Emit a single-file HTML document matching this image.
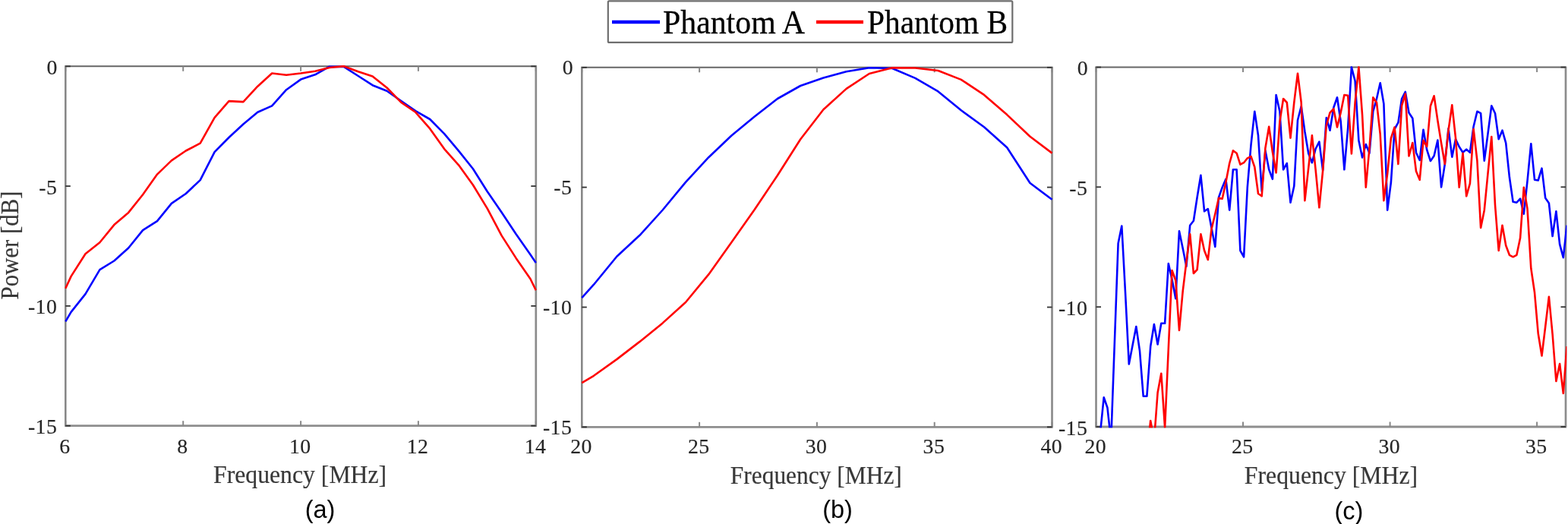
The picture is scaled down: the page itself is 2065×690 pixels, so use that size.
<!DOCTYPE html>
<html><head><meta charset="utf-8"><title>Power spectra</title>
<style>
html,body{margin:0;padding:0;background:#fff;}
body{width:2065px;height:690px;overflow:hidden;}
svg{display:block;}
.tk{font-family:"Liberation Serif",serif;font-size:27.8px;fill:#262626;stroke:#262626;stroke-width:0.15px;letter-spacing:0.4px;}
.al{font-family:"Liberation Serif",serif;font-size:34px;fill:#383838;stroke:#383838;stroke-width:0.2px;}
.lg{font-family:"Liberation Serif",serif;font-size:43.5px;fill:#000;stroke:#000;stroke-width:0.3px;}
.cap{font-family:"Liberation Sans",sans-serif;font-size:32.5px;fill:#000;}
</style></head><body>
<svg width="2065" height="690" viewBox="0 0 2065 690">
<rect width="2065" height="690" fill="#fff"/>

<rect x="800.8" y="1.3" width="532.5" height="54.6" rx="1.5" fill="#fff" stroke="#6e6e6e" stroke-width="2.2"/>
<line x1="806" y1="29.0" x2="869" y2="29.0" stroke="#0000ff" stroke-width="4.6"/>
<text x="873" y="44" class="lg" textLength="187" lengthAdjust="spacingAndGlyphs">Phantom A</text>
<line x1="1075" y1="29.0" x2="1137" y2="29.0" stroke="#ff0000" stroke-width="4.6"/>
<text x="1142" y="44" class="lg" textLength="185" lengthAdjust="spacingAndGlyphs">Phantom B</text>

<text transform="translate(24,323) rotate(-90)" text-anchor="middle" class="al" textLength="143" lengthAdjust="spacingAndGlyphs">Power [dB]</text>
<line x1="85.1" y1="87.3" x2="707.0" y2="87.3" stroke="#666" stroke-width="2.1"/>
<line x1="85.1" y1="560.7" x2="707.0" y2="560.7" stroke="#8e8e8e" stroke-width="2.8"/>
<line x1="86.3" y1="87.3" x2="86.3" y2="560.7" stroke="#858585" stroke-width="2.5"/>
<line x1="705.8" y1="87.3" x2="705.8" y2="560.7" stroke="#8c8c8c" stroke-width="2.7"/>
<line x1="86.3" y1="560.7" x2="86.3" y2="554.2" stroke="#888" stroke-width="2.0"/>
<line x1="86.3" y1="87.3" x2="86.3" y2="93.8" stroke="#888" stroke-width="2.0"/>
<text x="85.5" y="596.8" text-anchor="middle" class="tk">6</text>
<line x1="241.2" y1="560.7" x2="241.2" y2="554.2" stroke="#888" stroke-width="2.0"/>
<line x1="241.2" y1="87.3" x2="241.2" y2="93.8" stroke="#888" stroke-width="2.0"/>
<text x="240.4" y="596.8" text-anchor="middle" class="tk">8</text>
<line x1="396.1" y1="560.7" x2="396.1" y2="554.2" stroke="#888" stroke-width="2.0"/>
<line x1="396.1" y1="87.3" x2="396.1" y2="93.8" stroke="#888" stroke-width="2.0"/>
<text x="395.2" y="596.8" text-anchor="middle" class="tk">10</text>
<line x1="550.9" y1="560.7" x2="550.9" y2="554.2" stroke="#888" stroke-width="2.0"/>
<line x1="550.9" y1="87.3" x2="550.9" y2="93.8" stroke="#888" stroke-width="2.0"/>
<text x="550.1" y="596.8" text-anchor="middle" class="tk">12</text>
<line x1="705.8" y1="560.7" x2="705.8" y2="554.2" stroke="#888" stroke-width="2.0"/>
<line x1="705.8" y1="87.3" x2="705.8" y2="93.8" stroke="#888" stroke-width="2.0"/>
<text x="705.0" y="596.8" text-anchor="middle" class="tk">14</text>
<line x1="86.3" y1="87.3" x2="92.8" y2="87.3" stroke="#333" stroke-width="1.8"/>
<line x1="705.8" y1="87.3" x2="699.3" y2="87.3" stroke="#333" stroke-width="1.8"/>
<text x="75.9" y="97.8" text-anchor="end" class="tk">0</text>
<line x1="86.3" y1="245.1" x2="92.8" y2="245.1" stroke="#333" stroke-width="1.8"/>
<line x1="705.8" y1="245.1" x2="699.3" y2="245.1" stroke="#333" stroke-width="1.8"/>
<text x="75.2" y="255.6" text-anchor="end" class="tk">-5</text>
<line x1="86.3" y1="402.9" x2="92.8" y2="402.9" stroke="#333" stroke-width="1.8"/>
<line x1="705.8" y1="402.9" x2="699.3" y2="402.9" stroke="#333" stroke-width="1.8"/>
<text x="75.2" y="413.4" text-anchor="end" class="tk">-10</text>
<line x1="86.3" y1="560.7" x2="92.8" y2="560.7" stroke="#333" stroke-width="1.8"/>
<line x1="705.8" y1="560.7" x2="699.3" y2="560.7" stroke="#333" stroke-width="1.8"/>
<text x="75.2" y="571.2" text-anchor="end" class="tk">-15</text>
<text x="395.1" y="635.5" text-anchor="middle" class="al" textLength="228" lengthAdjust="spacingAndGlyphs">Frequency [MHz]</text>
<text x="421.5" y="682" text-anchor="middle" class="cap">(a)</text>
<clipPath id="ca"><rect x="85.0" y="86.0" width="622.1" height="476.00000000000006"/></clipPath>
<g clip-path="url(#ca)">
<polyline points="86.3,423.4 93.6,410.9 112.5,387.1 131.4,355.2 150.3,343.5 169.2,326.5 188.1,303.1 207.0,291.1 225.9,267.9 244.8,255.0 263.7,237.1 282.6,200.2 301.5,181.0 320.4,163.5 339.3,147.8 358.2,139.4 377.1,118.2 396.1,104.6 415.0,98.3 433.9,87.7 452.8,87.9 471.7,100.0 490.6,112.2 509.5,119.7 528.4,133.0 547.3,146.1 566.2,157.0 585.1,176.2 604.0,198.6 622.9,222.3 641.8,252.2 660.7,279.7 679.6,308.3 698.5,335.2 705.8,346.1" fill="none" stroke="#0000ff" stroke-width="2.6" stroke-linejoin="round" stroke-linecap="butt"/>
<polyline points="86.3,379.7 93.6,363.9 112.5,334.3 131.4,319.3 150.3,296.1 169.2,279.9 188.1,256.2 207.0,229.6 225.9,211.4 244.8,198.5 263.7,188.7 282.6,154.8 301.5,133.1 320.4,134.1 339.3,113.7 358.2,96.5 377.1,98.7 396.1,96.5 415.0,93.7 433.9,89.0 452.8,87.2 471.7,94.3 490.6,100.6 509.5,115.5 528.4,134.9 547.3,147.8 566.2,169.4 585.1,196.1 604.0,217.3 622.9,243.5 641.8,274.7 660.7,310.4 679.6,339.9 698.5,367.3 705.8,382.3" fill="none" stroke="#ff0000" stroke-width="2.6" stroke-linejoin="round" stroke-linecap="butt"/>
</g><line x1="765.0999999999999" y1="88.8" x2="1386.7" y2="88.8" stroke="#666" stroke-width="2.1"/>
<line x1="765.0999999999999" y1="562.3" x2="1386.7" y2="562.3" stroke="#8e8e8e" stroke-width="2.8"/>
<line x1="766.3" y1="88.8" x2="766.3" y2="562.3" stroke="#858585" stroke-width="2.5"/>
<line x1="1385.5" y1="88.8" x2="1385.5" y2="562.3" stroke="#8c8c8c" stroke-width="2.7"/>
<line x1="766.3" y1="562.3" x2="766.3" y2="555.8" stroke="#888" stroke-width="2.0"/>
<line x1="766.3" y1="88.8" x2="766.3" y2="95.3" stroke="#888" stroke-width="2.0"/>
<text x="765.5" y="596.8" text-anchor="middle" class="tk">20</text>
<line x1="921.1" y1="562.3" x2="921.1" y2="555.8" stroke="#888" stroke-width="2.0"/>
<line x1="921.1" y1="88.8" x2="921.1" y2="95.3" stroke="#888" stroke-width="2.0"/>
<text x="920.3" y="596.8" text-anchor="middle" class="tk">25</text>
<line x1="1075.9" y1="562.3" x2="1075.9" y2="555.8" stroke="#888" stroke-width="2.0"/>
<line x1="1075.9" y1="88.8" x2="1075.9" y2="95.3" stroke="#888" stroke-width="2.0"/>
<text x="1075.1" y="596.8" text-anchor="middle" class="tk">30</text>
<line x1="1230.7" y1="562.3" x2="1230.7" y2="555.8" stroke="#888" stroke-width="2.0"/>
<line x1="1230.7" y1="88.8" x2="1230.7" y2="95.3" stroke="#888" stroke-width="2.0"/>
<text x="1229.9" y="596.8" text-anchor="middle" class="tk">35</text>
<line x1="1385.5" y1="562.3" x2="1385.5" y2="555.8" stroke="#888" stroke-width="2.0"/>
<line x1="1385.5" y1="88.8" x2="1385.5" y2="95.3" stroke="#888" stroke-width="2.0"/>
<text x="1384.7" y="596.8" text-anchor="middle" class="tk">40</text>
<line x1="766.3" y1="88.8" x2="772.8" y2="88.8" stroke="#333" stroke-width="1.8"/>
<line x1="1385.5" y1="88.8" x2="1379.0" y2="88.8" stroke="#333" stroke-width="1.8"/>
<text x="755.1" y="98.3" text-anchor="end" class="tk">0</text>
<line x1="766.3" y1="246.6" x2="772.8" y2="246.6" stroke="#333" stroke-width="1.8"/>
<line x1="1385.5" y1="246.6" x2="1379.0" y2="246.6" stroke="#333" stroke-width="1.8"/>
<text x="753.2" y="256.1" text-anchor="end" class="tk">-5</text>
<line x1="766.3" y1="404.5" x2="772.8" y2="404.5" stroke="#333" stroke-width="1.8"/>
<line x1="1385.5" y1="404.5" x2="1379.0" y2="404.5" stroke="#333" stroke-width="1.8"/>
<text x="753.2" y="414.0" text-anchor="end" class="tk">-10</text>
<line x1="766.3" y1="562.3" x2="772.8" y2="562.3" stroke="#333" stroke-width="1.8"/>
<line x1="1385.5" y1="562.3" x2="1379.0" y2="562.3" stroke="#333" stroke-width="1.8"/>
<text x="753.2" y="571.8" text-anchor="end" class="tk">-15</text>
<text x="1074.8" y="637" text-anchor="middle" class="al" textLength="226" lengthAdjust="spacingAndGlyphs">Frequency [MHz]</text>
<text x="1103" y="682" text-anchor="middle" class="cap">(b)</text>
<clipPath id="cb"><rect x="765.0" y="87.5" width="621.8000000000001" height="476.09999999999997"/></clipPath>
<g clip-path="url(#cb)">
<polyline points="766.3,392.1 782.0,374.7 812.3,337.8 842.5,309.8 872.7,276.5 903.0,239.8 933.2,207.2 963.4,178.5 993.7,153.6 1023.9,130.0 1054.1,113.0 1084.4,102.4 1114.6,94.2 1144.8,89.2 1175.1,90.0 1205.3,102.9 1235.5,120.4 1265.8,145.3 1296.0,167.3 1326.2,194.2 1356.5,241.0 1385.5,262.8" fill="none" stroke="#0000ff" stroke-width="2.6" stroke-linejoin="round" stroke-linecap="butt"/>
<polyline points="766.3,504.2 782.0,494.8 812.3,473.1 842.5,449.9 872.7,425.4 903.0,398.0 933.2,361.4 963.4,319.0 993.7,276.0 1023.9,231.0 1054.1,183.5 1084.4,144.3 1114.6,116.9 1144.8,97.0 1175.1,89.3 1205.3,89.5 1235.5,93.0 1265.8,104.9 1296.0,124.9 1326.2,151.1 1356.5,179.8 1385.5,201.6" fill="none" stroke="#ff0000" stroke-width="2.6" stroke-linejoin="round" stroke-linecap="butt"/>
</g><line x1="1442.3" y1="88.5" x2="2063.2" y2="88.5" stroke="#666" stroke-width="2.1"/>
<line x1="1442.3" y1="562" x2="2063.2" y2="562" stroke="#8e8e8e" stroke-width="2.8"/>
<line x1="1443.5" y1="88.5" x2="1443.5" y2="562" stroke="#858585" stroke-width="2.5"/>
<line x1="2062.0" y1="88.5" x2="2062.0" y2="562" stroke="#8c8c8c" stroke-width="2.7"/>
<line x1="1443.5" y1="562" x2="1443.5" y2="555.5" stroke="#888" stroke-width="2.0"/>
<line x1="1443.5" y1="88.5" x2="1443.5" y2="95.0" stroke="#888" stroke-width="2.0"/>
<text x="1442.7" y="596.8" text-anchor="middle" class="tk">20</text>
<line x1="1637.0" y1="562" x2="1637.0" y2="555.5" stroke="#888" stroke-width="2.0"/>
<line x1="1637.0" y1="88.5" x2="1637.0" y2="95.0" stroke="#888" stroke-width="2.0"/>
<text x="1636.2" y="596.8" text-anchor="middle" class="tk">25</text>
<line x1="1830.6" y1="562" x2="1830.6" y2="555.5" stroke="#888" stroke-width="2.0"/>
<line x1="1830.6" y1="88.5" x2="1830.6" y2="95.0" stroke="#888" stroke-width="2.0"/>
<text x="1829.8" y="596.8" text-anchor="middle" class="tk">30</text>
<line x1="2024.1" y1="562" x2="2024.1" y2="555.5" stroke="#888" stroke-width="2.0"/>
<line x1="2024.1" y1="88.5" x2="2024.1" y2="95.0" stroke="#888" stroke-width="2.0"/>
<text x="2023.3" y="596.8" text-anchor="middle" class="tk">35</text>
<line x1="1443.5" y1="88.5" x2="1450.0" y2="88.5" stroke="#333" stroke-width="1.8"/>
<line x1="2062.0" y1="88.5" x2="2055.5" y2="88.5" stroke="#333" stroke-width="1.8"/>
<text x="1433.1" y="99.0" text-anchor="end" class="tk">0</text>
<line x1="1443.5" y1="246.3" x2="1450.0" y2="246.3" stroke="#333" stroke-width="1.8"/>
<line x1="2062.0" y1="246.3" x2="2055.5" y2="246.3" stroke="#333" stroke-width="1.8"/>
<text x="1432.2" y="256.8" text-anchor="end" class="tk">-5</text>
<line x1="1443.5" y1="404.2" x2="1450.0" y2="404.2" stroke="#333" stroke-width="1.8"/>
<line x1="2062.0" y1="404.2" x2="2055.5" y2="404.2" stroke="#333" stroke-width="1.8"/>
<text x="1432.2" y="414.7" text-anchor="end" class="tk">-10</text>
<line x1="1443.5" y1="562.0" x2="1450.0" y2="562.0" stroke="#333" stroke-width="1.8"/>
<line x1="2062.0" y1="562.0" x2="2055.5" y2="562.0" stroke="#333" stroke-width="1.8"/>
<text x="1432.2" y="572.5" text-anchor="end" class="tk">-15</text>
<text x="1753" y="637" text-anchor="middle" class="al" textLength="228.3" lengthAdjust="spacingAndGlyphs">Frequency [MHz]</text>
<text x="1776.5" y="683.5" text-anchor="middle" class="cap">(c)</text>
<clipPath id="cc"><rect x="1442.2" y="87.2" width="621.1" height="476.1"/></clipPath>
<g clip-path="url(#cc)">
<polyline points="1444.3,600.0 1449.0,570.0 1453.7,523.3 1458.4,536.7 1463.2,580.0 1467.9,450.0 1472.6,320.5 1477.3,297.5 1482.1,387.0 1486.8,479.5 1491.5,455.0 1496.3,430.0 1501.0,462.0 1505.7,521.7 1510.4,521.7 1515.2,456.0 1519.9,427.0 1524.6,453.5 1529.3,425.8 1534.1,425.8 1538.8,347.0 1543.5,368.0 1548.3,393.3 1553.0,304.2 1557.7,327.0 1562.4,350.8 1567.2,296.7 1571.9,290.8 1576.6,260.0 1581.4,230.8 1586.1,278.3 1590.8,275.0 1595.5,300.0 1600.3,325.0 1605.0,260.0 1609.7,246.7 1614.4,235.8 1619.2,276.7 1623.9,223.3 1628.6,223.3 1633.4,330.0 1638.1,338.3 1642.8,246.7 1647.5,191.0 1652.3,146.7 1657.0,178.3 1661.7,251.7 1666.4,198.3 1671.2,223.3 1675.9,235.8 1680.6,125.0 1685.4,146.7 1690.1,223.3 1694.8,215.0 1699.5,266.7 1704.3,245.0 1709.0,158.3 1713.7,140.0 1718.4,173.3 1723.2,202.0 1727.9,214.2 1732.6,196.0 1737.4,186.7 1742.1,224.2 1746.8,155.0 1751.5,171.7 1756.3,141.7 1761.0,128.3 1765.7,160.0 1770.4,223.3 1775.2,168.3 1779.9,88.3 1784.6,106.7 1789.4,185.0 1794.1,207.5 1798.8,190.0 1803.5,201.7 1808.3,146.7 1813.0,130.0 1817.7,109.2 1822.4,136.7 1827.2,276.7 1831.9,240.0 1836.6,170.0 1841.4,161.4 1846.1,130.0 1850.8,120.9 1855.5,148.5 1860.3,155.7 1865.0,201.0 1869.7,211.0 1874.5,170.7 1879.2,197.4 1883.9,212.0 1888.6,205.3 1893.4,184.6 1898.1,246.4 1902.8,216.3 1907.5,169.2 1912.3,206.7 1917.0,183.3 1921.7,193.3 1926.5,200.8 1931.2,196.6 1935.9,200.8 1940.6,166.7 1945.4,146.7 1950.1,149.2 1954.8,211.7 1959.5,176.0 1964.3,139.2 1969.0,149.2 1973.7,183.3 1978.5,171.7 1983.2,188.3 1987.9,233.3 1992.6,265.8 1997.4,266.7 2002.1,261.7 2006.8,281.7 2011.5,238.3 2016.3,189.2 2021.0,236.7 2025.7,237.5 2030.5,221.7 2035.2,260.8 2039.9,267.5 2044.6,311.0 2049.4,278.3 2054.1,321.7 2058.8,339.2 2063.5,296.7" fill="none" stroke="#0000ff" stroke-width="2.6" stroke-linejoin="round" stroke-linecap="butt"/>
<polyline points="1505.7,600.0 1510.4,600.0 1515.2,554.0 1519.9,580.0 1524.6,517.0 1529.3,491.7 1534.1,563.0 1538.8,459.5 1543.5,356.0 1548.3,369.2 1553.0,435.0 1557.7,383.3 1562.4,345.0 1567.2,308.3 1571.9,360.0 1576.6,355.0 1581.4,308.3 1586.1,330.0 1590.8,342.0 1595.5,301.7 1600.3,281.7 1605.0,260.8 1609.7,261.7 1614.4,240.0 1619.2,215.0 1623.9,198.3 1628.6,201.7 1633.4,216.7 1638.1,214.2 1642.8,208.3 1647.5,205.8 1652.3,220.0 1657.0,255.0 1661.7,258.3 1666.4,195.0 1671.2,166.7 1675.9,200.0 1680.6,227.5 1685.4,160.0 1690.1,130.0 1694.8,135.0 1699.5,181.7 1704.3,135.0 1709.0,96.7 1713.7,135.0 1718.4,264.2 1723.2,221.3 1727.9,178.3 1732.6,223.3 1737.4,273.3 1742.1,225.0 1746.8,165.0 1751.5,148.3 1756.3,143.3 1761.0,167.5 1765.7,148.3 1770.4,125.0 1775.2,125.8 1779.9,202.5 1784.6,135.0 1789.4,88.3 1794.1,151.7 1798.8,246.7 1803.5,195.0 1808.3,128.3 1813.0,135.0 1817.7,176.7 1822.4,264.2 1827.2,228.3 1831.9,182.0 1836.6,167.5 1841.4,216.0 1846.1,139.0 1850.8,123.5 1855.5,205.5 1860.3,188.1 1865.0,225.5 1869.7,236.8 1874.5,184.8 1879.2,193.0 1883.9,139.5 1888.6,126.3 1893.4,159.0 1898.1,188.5 1902.8,216.0 1907.5,171.7 1912.3,138.3 1917.0,181.7 1921.7,246.7 1926.5,201.7 1931.2,258.3 1935.9,241.7 1940.6,170.0 1945.4,211.7 1950.1,300.0 1954.8,276.7 1959.5,228.3 1964.3,180.0 1969.0,270.0 1973.7,330.0 1978.5,296.7 1983.2,323.3 1987.9,335.8 1992.6,338.3 1997.4,335.8 2002.1,313.3 2006.8,246.7 2011.5,275.0 2016.3,353.3 2021.0,385.0 2025.7,439.0 2030.5,468.5 2035.2,430.0 2039.9,390.7 2044.6,440.0 2049.4,502.0 2054.1,479.0 2058.8,518.0 2063.5,456.0" fill="none" stroke="#ff0000" stroke-width="2.6" stroke-linejoin="round" stroke-linecap="butt"/>
</g>
</svg>
</body></html>
